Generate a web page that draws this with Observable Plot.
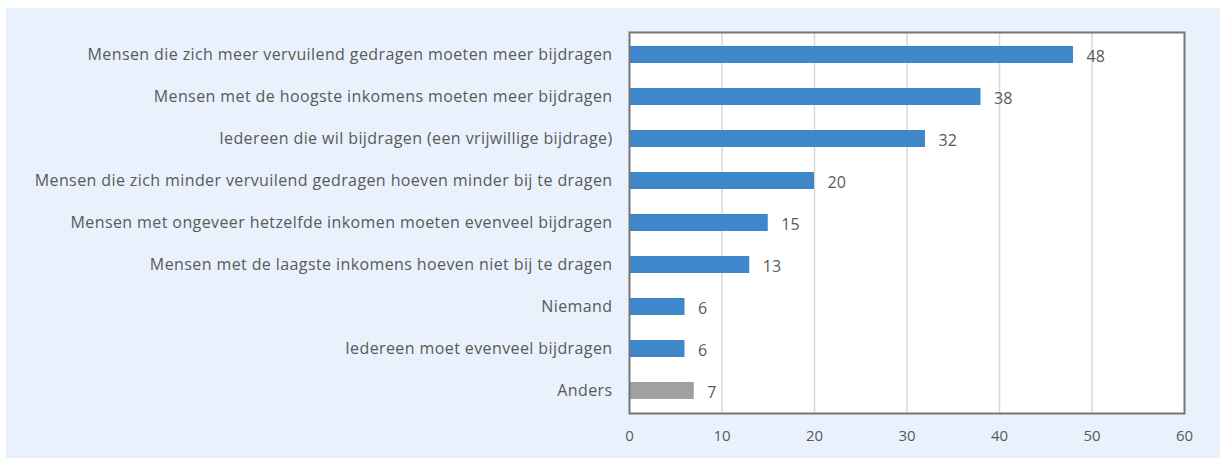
<!DOCTYPE html>
<html>
<head>
<meta charset="utf-8">
<script src="https://cdn.jsdelivr.net/npm/d3@7"></script>
<script src="https://cdn.jsdelivr.net/npm/@observablehq/plot@0.6"></script>
<style>
  html, body { margin: 0; padding: 0; background: #ffffff; }
  #wrap { position: relative; width: 1220px; height: 458px; }
  #panel { position: absolute; left: 6px; top: 8px; right: 0; bottom: 0; background: #e9f1fd; }
  #chart { position: absolute; left: 0; top: 0; }
  #chart svg { background: transparent; }
  #chart g[aria-label="y-axis tick label"] text { letter-spacing: 0.4px; }
</style>
</head>
<body>
<div id="wrap"><div id="panel"></div><div id="chart"></div></div>
<script>
const categories = [
  "Mensen die zich meer vervuilend gedragen moeten meer bijdragen",
  "Mensen met de hoogste inkomens moeten meer bijdragen",
  "Iedereen die wil bijdragen (een vrijwillige bijdrage)",
  "Mensen die zich minder vervuilend gedragen hoeven minder bij te dragen",
  "Mensen met ongeveer hetzelfde inkomen moeten evenveel bijdragen",
  "Mensen met de laagste inkomens hoeven niet bij te dragen",
  "Niemand",
  "Iedereen moet evenveel bijdragen",
  "Anders"
];
const values = [48, 38, 32, 20, 15, 13, 6, 6, 7];
const groups = ["main", "main", "main", "main", "main", "main", "main", "main", "other"];
const xTicks = [0, 10, 20, 30, 40, 50, 60];

const data = categories.map((c, i) => ({category: c, value: values[i], group: groups[i]}));

const textColor = "#595959";
const font = "'Open Sans', Lato, sans-serif";

const chart = Plot.plot({
  width: 1220,
  height: 458,
  marginLeft: 629,
  marginRight: 36,
  marginTop: 32,
  marginBottom: 45,
  style: {fontFamily: font, fontSize: "16px", color: textColor, background: "transparent"},
  x: {domain: [0, 60], ticks: xTicks, label: null},
  y: {domain: categories, label: null, paddingInner: 0.6, paddingOuter: 0.3},
  color: {domain: ["main", "other"], range: ["#3e87cb", "#a0a0a0"]},
  marks: [
    Plot.frame({fill: "#ffffff"}),
    Plot.gridX(xTicks.filter(t => t > 0 && t < 60), {stroke: "#d9d9d9", strokeOpacity: 1, strokeWidth: 1.5}),
    Plot.barX(data, {x: "value", y: "category", fill: "group"}),
    Plot.text(data, {x: "value", y: "category", text: d => String(d.value), dx: 13, dy: 2, textAnchor: "start", fill: textColor, fontSize: 16}),
    Plot.frame({stroke: "#767676", strokeWidth: 2}),
    Plot.axisY({tickSize: 0, tickPadding: 17, fill: textColor, fontSize: 16}),
    Plot.axisX({ticks: xTicks, tickSize: 0, tickPadding: 17, fill: textColor, fontSize: 15})
  ]
});
document.getElementById("chart").appendChild(chart);
</script>
</body>
</html>
